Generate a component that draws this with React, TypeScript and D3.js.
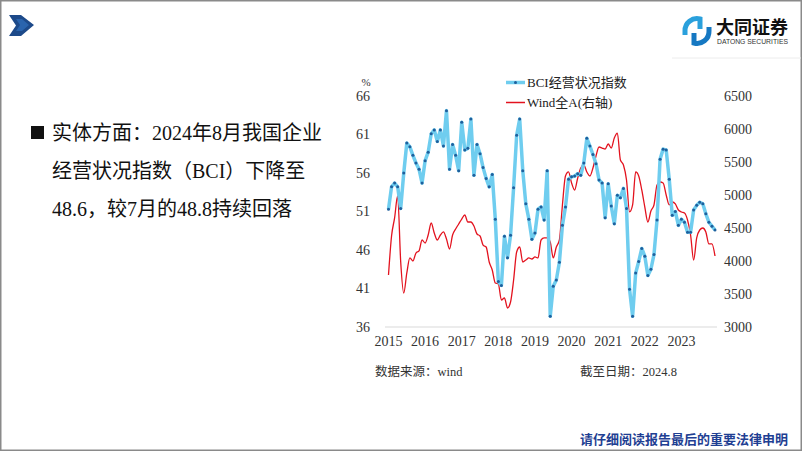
import React, { useEffect, useRef } from "react";
import * as d3 from "d3";

// BCI企业经营状况指数（月度, %）
const bciValues = [
  51.3, 54.2, 54.7, 54.2, 51.4, 56.0, 59.9, 59.4, 58.3, 57.3, 56.5, 54.7,
  57.6, 58.7, 61.1, 61.6, 60.1, 61.6, 59.5, 64.1, 56.5, 59.7, 58.3, 56.3,
  62.6, 59.0, 59.2, 63.0, 55.7, 59.7, 58.5, 56.7, 55.3, 54.2, 55.8, 50.0,
  41.9, 41.4, 47.8, 45.0, 47.9, 54.1, 60.9, 63.0, 56.3, 52.0, 50.0, 47.4,
  48.2, 51.3, 51.6, 49.9, 56.3, 37.4, 41.3, 42.1, 44.4, 49.2, 51.6, 55.2,
  55.5, 55.6, 55.9, 55.7, 57.3, 60.5, 59.5, 58.4, 57.2, 55.1, 54.7, 50.2,
  54.6, 51.7, 49.4, 53.1, 52.8, 54.0, 51.4, 40.9, 37.4, 43.0, 44.5, 46.2,
  45.2, 42.7, 43.5, 45.4, 49.9, 57.8, 59.1, 59.0, 55.2, 50.5, 51.0, 49.2,
  50.0, 49.6, 48.3, 48.3, 51.2, 51.8, 52.2, 52.0, 50.7, 49.6, 49.1, 48.6,
];

// Wind全A指数（右轴）
const windValues = [
  3788, 4379, 4652, 4985, 3985, 3515, 3818, 4046, 4000, 4121, 4152, 4318,
  4273, 4394, 4576, 4424, 4318, 4394, 4440, 4333, 4182, 4394, 4485, 4561,
  4636, 4697, 4591, 4591, 4530, 4409, 4379, 4242, 4212, 3985, 3864, 3667,
  3652, 3409, 3440, 3288, 3379, 3712, 4136, 4212, 3985, 4015, 4046, 4030,
  4061, 4046, 4318, 4349, 4349, 4288, 4046, 4212, 4318, 4849, 5288, 5349,
  5182, 5076, 5258, 5409, 5455, 5349, 5288, 5409, 5591, 5727, 5712, 5697,
  5773, 5712, 5864, 5939, 5530, 5455, 5227, 4743, 4849, 5349, 5288, 5076,
  4818, 4591, 4758, 4849, 5152, 5197, 5182, 5000, 4849, 4894, 4864, 4773,
  4743, 4727, 4621, 4394, 4015, 4349, 4470, 4500, 4440, 4258, 4258, 4076,
];

const yearLabels = ["2015", "2016", "2017", "2018", "2019", "2020", "2021", "2022", "2023"];
const leftTicks = [36, 41, 46, 51, 56, 61, 66];
const rightTicks = [3000, 3500, 4000, 4500, 5000, 5500, 6000, 6500];
const seriesNames = ["BCI经营状况指数", "Wind全A(右轴)"];
const bodyLines = [
  "实体方面：2024年8月我国企业",
  "经营状况指数（BCI）下降至",
  "48.6，较7月的48.8持续回落",
];

const SERIF = "'Liberation Serif', 'Noto Sans CJK SC', serif";
const CJK = "'Noto Sans CJK SC', sans-serif";

export default function App() {
  const svgRef = useRef<SVGSVGElement>(null);

  useEffect(() => {
    if (!svgRef.current) return;
    const width = 802;
    const height = 451;
    const svg = d3.select(svgRef.current);
    svg.selectAll("*").remove();
    svg.attr("width", width).attr("height", height).attr("viewBox", `0 0 ${width} ${height}`);

    // 背景与边框
    svg.append("rect").attr("width", width).attr("height", height).attr("fill", "#fff");
    svg
      .append("rect")
      .attr("x", 0.75)
      .attr("y", 0.75)
      .attr("width", width - 1.5)
      .attr("height", height - 1.5)
      .attr("fill", "none")
      .attr("stroke", "#8a8a8a")
      .attr("stroke-width", 1.5);

    // 左上角箭头
    svg
      .append("polygon")
      .attr("points", "9,15 21,15 34,25 21,36 9,36 16,25.5")
      .attr("fill", "#1d4a8a");
    svg
      .append("polygon")
      .attr("points", "16,19 22,19 29,25 22,31 16,31 20,25")
      .attr("fill", "#2a64ad");

    // 右上角 logo
    const logo = svg.append("g").attr("transform", "translate(697,31)");
    logo
      .append("path")
      .attr("d", "M 3,-2 L 3,-12 A 12 12 0 0 0 -12,0 L -12,4")
      .attr("fill", "none")
      .attr("stroke", "#2aa0dc")
      .attr("stroke-width", 5);
    logo
      .append("path")
      .attr("d", "M -3,2 L -3,12 A 12 12 0 0 0 12,0 L 12,-4")
      .attr("fill", "none")
      .attr("stroke", "#1678c2")
      .attr("stroke-width", 5);
    svg
      .append("text")
      .attr("x", 716)
      .attr("y", 34)
      .attr("font-family", CJK)
      .attr("font-weight", "bold")
      .attr("font-size", 18)
      .attr("fill", "#111")
      .text("大同证券");
    svg
      .append("text")
      .attr("x", 717)
      .attr("y", 44)
      .attr("font-family", "'Liberation Sans Narrow', 'Liberation Sans', sans-serif")
      .attr("font-size", 7)
      .attr("textLength", 71)
      .attr("lengthAdjust", "spacingAndGlyphs")
      .attr("fill", "#333")
      .text("DATONG SECURITIES");
    svg
      .append("line")
      .attr("x1", 672)
      .attr("x2", 801)
      .attr("y1", 58)
      .attr("y2", 58)
      .attr("stroke", "#ececec");

    // 左侧文字
    svg
      .append("rect")
      .attr("x", 31)
      .attr("y", 126)
      .attr("width", 13)
      .attr("height", 13)
      .attr("fill", "#111");
    bodyLines.forEach((t, i) => {
      svg
        .append("text")
        .attr("x", 52)
        .attr("y", 140 + i * 38)
        .attr("font-family", SERIF)
        .attr("font-size", 20)
        .attr("fill", "#111")
        .text(t);
    });

    // 图表
    const x = d3.scaleLinear().domain([0, bciValues.length - 1]).range([388.5, 715]);
    const yL = d3.scaleLinear().domain([36, 66]).range([327, 96]);
    const yR = d3.scaleLinear().domain([3000, 6500]).range([327, 96]);

    svg
      .append("line")
      .attr("x1", 385)
      .attr("x2", 717)
      .attr("y1", yL(36))
      .attr("y2", yL(36))
      .attr("stroke", "#d9d9d9");

    const tickFont = (sel: any) =>
      sel.attr("font-family", SERIF).attr("font-size", 14).attr("fill", "#333");

    leftTicks.forEach((v) => {
      svg
        .append("text")
        .attr("x", 370)
        .attr("y", yL(v))
        .attr("dy", "0.35em")
        .attr("text-anchor", "end")
        .call(tickFont)
        .text(v);
    });
    svg
      .append("text")
      .attr("x", 366)
      .attr("y", 86)
      .attr("text-anchor", "middle")
      .attr("font-family", SERIF)
      .attr("font-size", 11)
      .attr("fill", "#333")
      .text("%");

    rightTicks.forEach((v) => {
      svg
        .append("text")
        .attr("x", 724)
        .attr("y", yR(v))
        .attr("dy", "0.35em")
        .call(tickFont)
        .text(v);
    });

    yearLabels.forEach((t, i) => {
      svg
        .append("text")
        .attr("x", x(i * 12))
        .attr("y", 346)
        .attr("text-anchor", "middle")
        .call(tickFont)
        .text(t);
    });

    // Wind全A 线
    const redLine = d3
      .line<number>()
      .x((_, i) => x(i))
      .y((d) => yR(d))
      .curve(d3.curveMonotoneX);
    svg
      .append("path")
      .datum(windValues)
      .attr("fill", "none")
      .attr("stroke", "#e3121e")
      .attr("stroke-width", 1.3)
      .attr("d", redLine);

    // BCI 线
    const blueLine = d3
      .line<number>()
      .x((_, i) => x(i))
      .y((d) => yL(d));
    svg
      .append("path")
      .datum(bciValues)
      .attr("fill", "none")
      .attr("stroke", "#6fcdef")
      .attr("stroke-width", 3.5)
      .attr("stroke-linejoin", "round")
      .attr("d", blueLine);
    svg
      .append("g")
      .selectAll("circle")
      .data(bciValues)
      .enter()
      .append("circle")
      .attr("cx", (_, i) => x(i))
      .attr("cy", (d) => yL(d))
      .attr("r", 1.5)
      .attr("fill", "#1f5f9c");

    // 图例
    svg
      .append("line")
      .attr("x1", 506)
      .attr("x2", 525)
      .attr("y1", 82.5)
      .attr("y2", 82.5)
      .attr("stroke", "#6fcdef")
      .attr("stroke-width", 3.5);
    svg.append("circle").attr("cx", 515.5).attr("cy", 82.5).attr("r", 1.5).attr("fill", "#1f5f9c");
    svg
      .append("line")
      .attr("x1", 506)
      .attr("x2", 525)
      .attr("y1", 102.5)
      .attr("y2", 102.5)
      .attr("stroke", "#e3121e")
      .attr("stroke-width", 1.5);
    seriesNames.forEach((t, i) => {
      svg
        .append("text")
        .attr("x", 527)
        .attr("y", 82.5 + i * 20)
        .attr("dy", "0.35em")
        .attr("font-family", SERIF)
        .attr("font-size", 13)
        .attr("fill", "#222")
        .text(t);
    });

    // 数据来源
    svg
      .append("text")
      .attr("x", 375)
      .attr("y", 376)
      .attr("font-family", SERIF)
      .attr("font-size", 12.5)
      .attr("fill", "#333")
      .text("数据来源：wind");
    svg
      .append("text")
      .attr("x", 580)
      .attr("y", 376)
      .attr("font-family", SERIF)
      .attr("font-size", 12.5)
      .attr("fill", "#333")
      .text("截至日期：2024.8");

    // 底部申明
    svg
      .append("text")
      .attr("x", 788)
      .attr("y", 444)
      .attr("text-anchor", "end")
      .attr("font-family", CJK)
      .attr("font-weight", "bold")
      .attr("font-size", 13)
      .attr("fill", "#1f3f93")
      .text("请仔细阅读报告最后的重要法律申明");
  }, []);

  return (
    <div style={{ position: "absolute", left: 0, top: 0 }}>
      <svg ref={svgRef} style={{ display: "block" }} />
    </div>
  );
}
